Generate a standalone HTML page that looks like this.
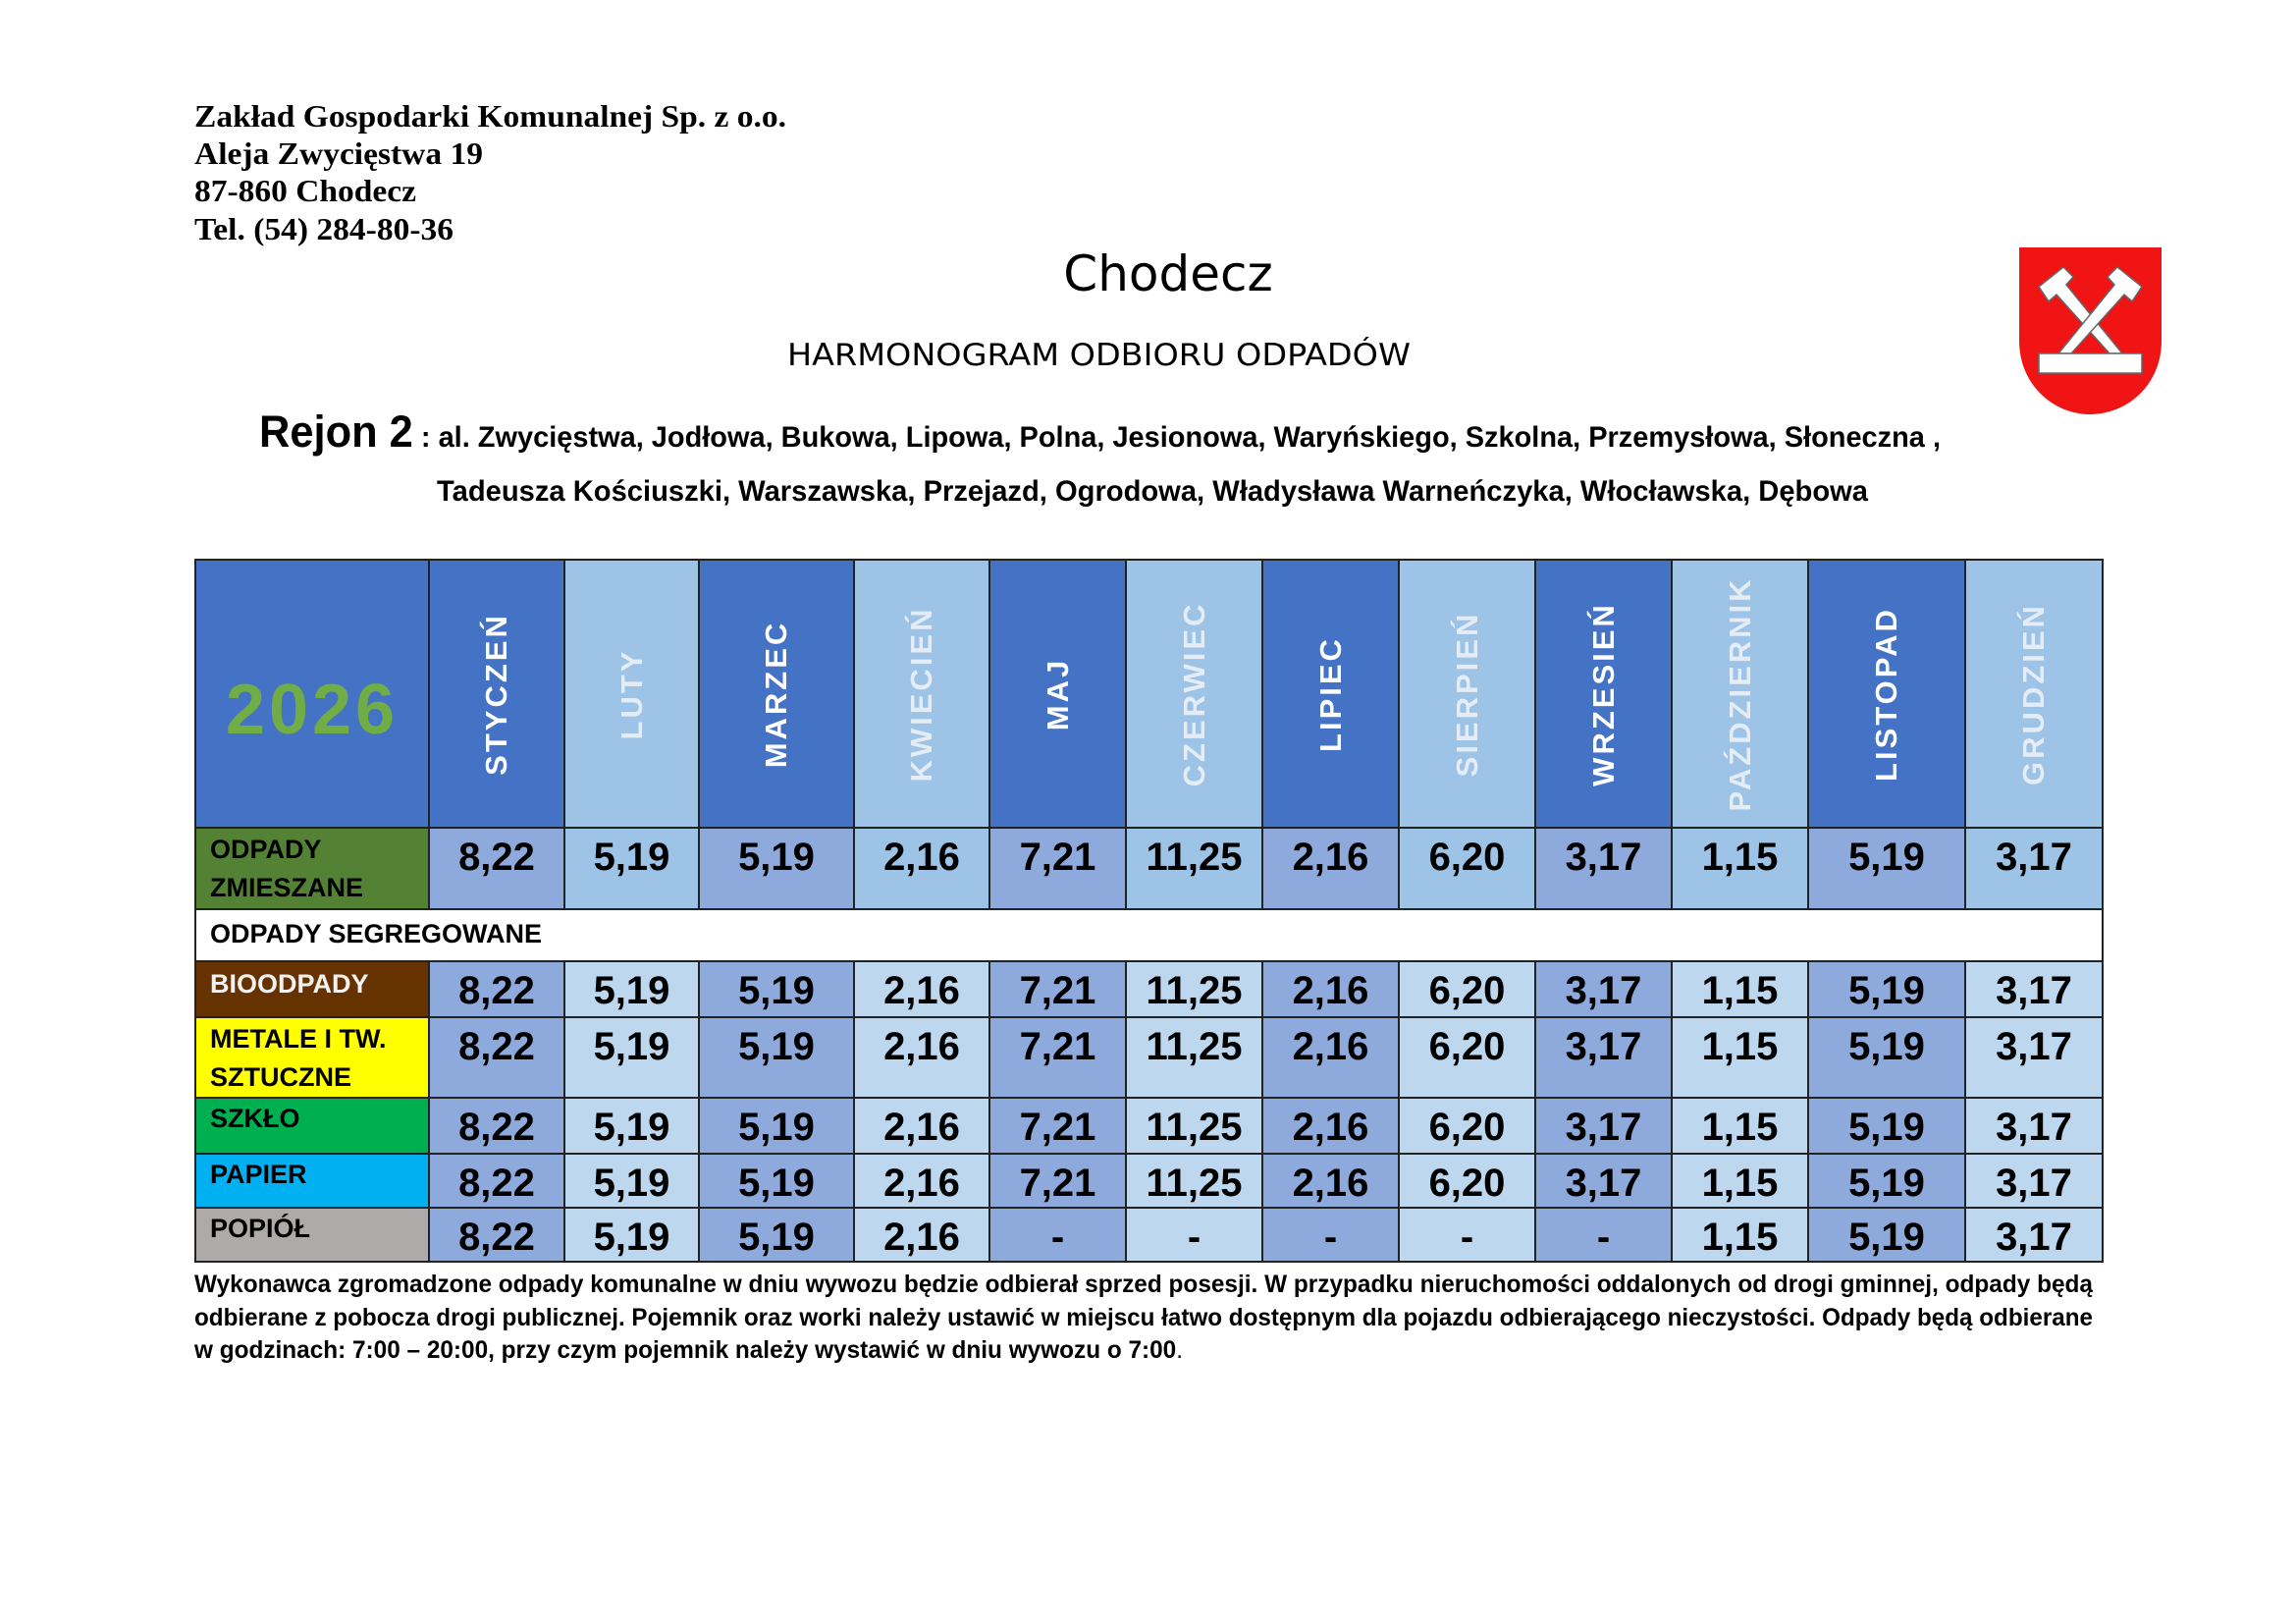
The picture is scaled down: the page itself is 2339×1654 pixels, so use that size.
<!DOCTYPE html>
<html><head><meta charset="utf-8">
<style>
html,body{margin:0;padding:0;background:#fff;}
body{width:2339px;height:1654px;position:relative;overflow:hidden;font-family:"Liberation Sans",sans-serif;}
.abs{position:absolute;white-space:nowrap;}
.fit{transform-origin:0 0;display:inline-block;}
.hdr{font-family:"Liberation Serif",serif;font-weight:bold;font-size:32px;left:198px;}
table{position:absolute;left:198px;top:569px;border-collapse:collapse;table-layout:fixed;}
td{border:2px solid #222;padding:0;vertical-align:top;text-align:center;font-weight:bold;overflow:hidden;}
.D{background:#4472C4;}
.L{background:#9DC3E6;}
.m{height:271px;position:relative;}
.m span{position:absolute;left:50%;top:50%;transform:translate(-50%,-50%) rotate(-90deg);font-size:31px;letter-spacing:3px;white-space:nowrap;}
.D .m span{color:#fff;}
.L .m span{color:#e4ecf6;}
.n{font-size:40px;line-height:46px;padding-top:6px;color:#000;}
.dd{background:#8EA9DB;}
.ll{background:#BDD7EE;}
.l1{background:#9DC3E6;}
.lab{text-align:left;padding-left:14px;font-size:27px;line-height:39px;}
</style></head><body>
<div class="abs hdr" style="top:100px;width:603px"><span class="fit">Zakład Gospodarki Komunalnej Sp. z o.o.</span></div>
<div class="abs hdr" style="top:138px;width:294px"><span class="fit">Aleja Zwycięstwa 19</span></div>
<div class="abs hdr" style="top:176px;width:226px"><span class="fit">87-860 Chodecz</span></div>
<div class="abs hdr" style="top:215px;width:264px"><span class="fit">Tel. (54) 284-80-36</span></div>
<div class="abs" style="left:0;width:2380px;text-align:center;top:250px;font-family:'DejaVu Sans',sans-serif;font-size:50px;">Chodecz</div>
<div class="abs" style="left:802px;width:635px;top:344px;font-family:'DejaVu Sans',sans-serif;font-size:31px;"><span class="fit">HARMONOGRAM ODBIORU ODPADÓW</span></div>
<div class="abs" style="left:264px;top:414px;width:1713px;"><span class="fit" style="font-weight:bold;"><span style="font-size:45px">Rejon 2</span><span style="font-size:30px"> : al. Zwycięstwa, Jodłowa, Bukowa, Lipowa, Polna, Jesionowa, Waryńskiego, Szkolna, Przemysłowa, Słoneczna ,</span></span></div>
<div class="abs" style="left:445px;top:484px;width:1458px;"><span class="fit" style="font-weight:bold;font-size:30px">Tadeusza Kościuszki, Warszawska, Przejazd, Ogrodowa, Władysława Warneńczyka, Włocławska, Dębowa</span></div>

<svg class="abs" style="left:2057px;top:252px" width="145" height="170" viewBox="0 0 145 170">
<path d="M0 0H145V95C145 140 110 170 72 170C35 170 0 140 0 95Z" fill="#f01414"/>
<g fill="#fff" stroke="#666" stroke-width="1.5">
<path d="M20 40L45 20L55 30L48 38L105 108L92 108L38 48L30 55Z"/>
<path d="M125 40L100 20L90 30L97 38L40 108L53 108L107 48L115 55Z"/>
<rect x="20" y="108" width="105" height="20"/>
</g></svg>

<table>
<colgroup><col style="width:238px"><col style="width:138px"><col style="width:137px"><col style="width:158px"><col style="width:138px"><col style="width:139px"><col style="width:139px"><col style="width:139px"><col style="width:139px"><col style="width:139px"><col style="width:139px"><col style="width:160px"><col style="width:140px"></colgroup>
<tr>
<td class="D"><div class="m"><span style="transform:translate(-50%,-50%);color:#70AD47;font-size:72px;letter-spacing:4px;top:56%">2026</span></div></td>
<td class="D"><div class="m"><span>STYCZEŃ</span></div></td>
<td class="L"><div class="m"><span>LUTY</span></div></td>
<td class="D"><div class="m"><span>MARZEC</span></div></td>
<td class="L"><div class="m"><span>KWIECIEŃ</span></div></td>
<td class="D"><div class="m"><span>MAJ</span></div></td>
<td class="L"><div class="m"><span>CZERWIEC</span></div></td>
<td class="D"><div class="m"><span>LIPIEC</span></div></td>
<td class="L"><div class="m"><span>SIERPIEŃ</span></div></td>
<td class="D"><div class="m"><span>WRZESIEŃ</span></div></td>
<td class="L"><div class="m"><span>PAŹDZIERNIK</span></div></td>
<td class="D"><div class="m"><span>LISTOPAD</span></div></td>
<td class="L"><div class="m"><span>GRUDZIEŃ</span></div></td>
</tr>
<tr style="height:83px">
<td class="lab" style="background:#548235;"><div style="padding-top:2px">ODPADY<br>ZMIESZANE</div></td>
<td class="dd n">8,22</td><td class="l1 n">5,19</td><td class="dd n">5,19</td><td class="l1 n">2,16</td><td class="dd n">7,21</td><td class="l1 n">11,25</td><td class="dd n">2,16</td><td class="l1 n">6,20</td><td class="dd n">3,17</td><td class="l1 n">1,15</td><td class="dd n">5,19</td><td class="l1 n">3,17</td>
</tr>
<tr style="height:53px">
<td colspan="13" class="lab" style="background:#fff;line-height:48px;">ODPADY SEGREGOWANE</td>
</tr>
<tr style="height:57px">
<td class="lab" style="background:#663300;color:#f2f2f2;line-height:44px;">BIOODPADY</td>
<td class="dd n">8,22</td><td class="ll n">5,19</td><td class="dd n">5,19</td><td class="ll n">2,16</td><td class="dd n">7,21</td><td class="ll n">11,25</td><td class="dd n">2,16</td><td class="ll n">6,20</td><td class="dd n">3,17</td><td class="ll n">1,15</td><td class="dd n">5,19</td><td class="ll n">3,17</td>
</tr>
<tr style="height:82px">
<td class="lab" style="background:#FFFF00;"><div style="padding-top:2px">METALE I TW.<br>SZTUCZNE</div></td>
<td class="dd n">8,22</td><td class="ll n">5,19</td><td class="dd n">5,19</td><td class="ll n">2,16</td><td class="dd n">7,21</td><td class="ll n">11,25</td><td class="dd n">2,16</td><td class="ll n">6,20</td><td class="dd n">3,17</td><td class="ll n">1,15</td><td class="dd n">5,19</td><td class="ll n">3,17</td>
</tr>
<tr style="height:57px">
<td class="lab" style="background:#00B050;line-height:40px;">SZKŁO</td>
<td class="dd n">8,22</td><td class="ll n">5,19</td><td class="dd n">5,19</td><td class="ll n">2,16</td><td class="dd n">7,21</td><td class="ll n">11,25</td><td class="dd n">2,16</td><td class="ll n">6,20</td><td class="dd n">3,17</td><td class="ll n">1,15</td><td class="dd n">5,19</td><td class="ll n">3,17</td>
</tr>
<tr style="height:55px">
<td class="lab" style="background:#00B0F0;line-height:40px;">PAPIER</td>
<td class="dd n">8,22</td><td class="ll n">5,19</td><td class="dd n">5,19</td><td class="ll n">2,16</td><td class="dd n">7,21</td><td class="ll n">11,25</td><td class="dd n">2,16</td><td class="ll n">6,20</td><td class="dd n">3,17</td><td class="ll n">1,15</td><td class="dd n">5,19</td><td class="ll n">3,17</td>
</tr>
<tr style="height:55px">
<td class="lab" style="background:#AEAAAA;line-height:40px;">POPIÓŁ</td>
<td class="dd n">8,22</td><td class="ll n">5,19</td><td class="dd n">5,19</td><td class="ll n">2,16</td><td class="dd n">-</td><td class="ll n">-</td><td class="dd n">-</td><td class="ll n">-</td><td class="dd n">-</td><td class="ll n">1,15</td><td class="dd n">5,19</td><td class="ll n">3,17</td>
</tr>
</table>

<div class="abs" style="left:198px;top:1294px;width:1934px;"><span class="fit" style="font-weight:bold;font-size:25px">Wykonawca zgromadzone odpady komunalne w dniu wywozu będzie odbierał sprzed posesji. W przypadku nieruchomości oddalonych od drogi gminnej,  odpady będą</span></div>
<div class="abs" style="left:198px;top:1328px;width:1934px;"><span class="fit" style="font-weight:bold;font-size:25px">odbierane z pobocza drogi publicznej. Pojemnik oraz worki należy ustawić w miejscu łatwo dostępnym dla pojazdu odbierającego nieczystości. Odpady będą odbierane</span></div>
<div class="abs" style="left:198px;top:1361px;width:1007px;"><span class="fit" style="font-weight:bold;font-size:25px">w godzinach: 7:00 – 20:00, przy czym pojemnik należy wystawić w dniu wywozu o 7:00<span style="font-weight:normal">.</span></span></div>

<script>
document.querySelectorAll('.fit').forEach(function(e){
  var w=e.parentNode.getBoundingClientRect().width;
  var a=e.getBoundingClientRect().width;
  if(a>0) e.style.transform='scaleX('+(w/a)+')';
});
</script>
</body></html>
